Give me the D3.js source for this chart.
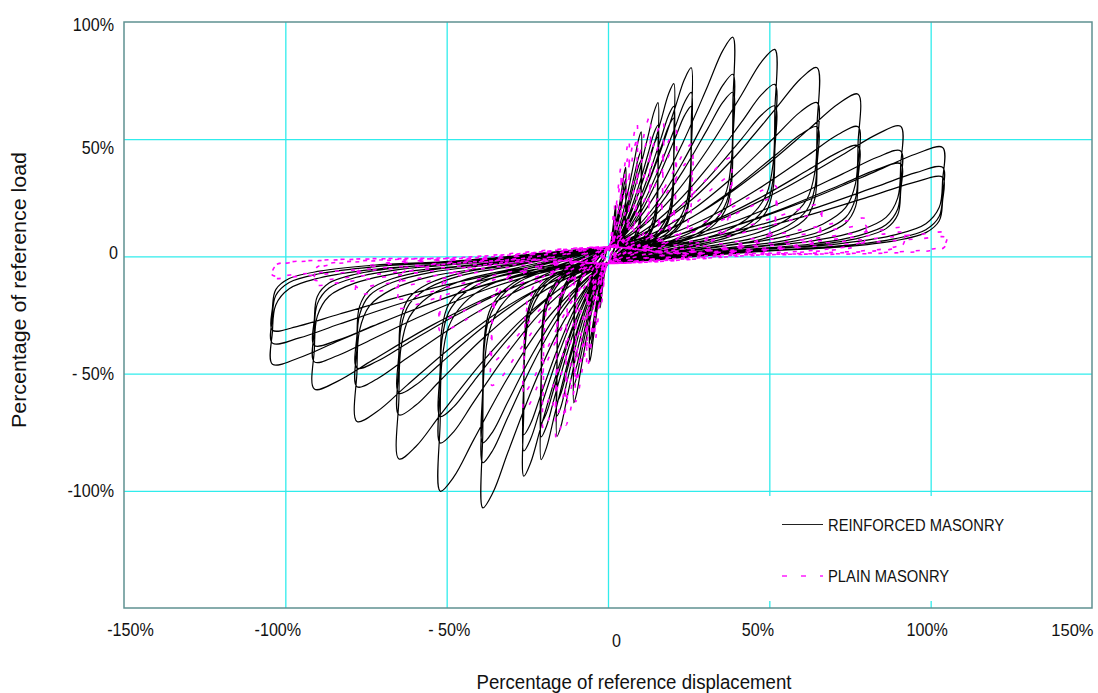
<!DOCTYPE html>
<html>
<head>
<meta charset="utf-8">
<script src="https://cdn.jsdelivr.net/npm/d3@7/dist/d3.min.js"></script>
<style>
  html, body { margin: 0; padding: 0; background: #fff; }
  svg text { font-family: "Liberation Sans", Arial, sans-serif; fill: #111; }
</style>
</head>
<body>
<div id="chart"></div>
<script>
// Assi (valori in %)
const xTicks = [-150, -100, -50, 0, 50, 100, 150];
const xTickLabels = ["-150%", "-100%", "- 50%", "0", "50%", "100%", "150%"];
const yTicks = [-100, -50, 0, 50, 100];
const yTickLabels = ["-100%", "- 50%", "0", "50%", "100%"];

// Muratura armata: spostamenti di picco per livello e carichi di picco dei 3 cicli
const rmPosDisp  = [2.4, 5.5, 10.3, 15.5, 20.4, 25.8, 38.7, 51.7, 64.8, 77.5, 90.7, 103.7];
const rmPosLoad1 = [21.7, 38, 53.1, 65.6, 73.7, 80.5, 93.5, 88.3, 80.5, 69.2, 55.5, 46.5];
const rmPosLoad2 = [19, 33, 45, 56, 64, 70, 77.7, 73.4, 65.6, 55.3, 45, 38];
const rmPosLoad3 = [17, 30, 41, 51, 59, 64, 70, 64.2, 55.3, 47.2, 39.5, 33.8];
const rmNegDisp  = [-2.5, -5.7, -10.6, -15.8, -20.7, -26.1, -38.8, -52, -64.8, -77.8, -91, -104];
const rmNegLoad1 = [-22, -45, -62.5, -76.8, -86.7, -93.8, -107.3, -100.2, -86.4, -70.4, -56.6, -46];
const rmNegLoad2 = [-19, -40, -55, -68, -77, -83, -88, -79.6, -67.6, -55.6, -45, -37];
const rmNegLoad3 = [-17, -36, -50, -62, -71, -76, -79.5, -68.3, -58.4, -47.6, -38, -31.5];

// Muratura non armata: 2 cicli per livello
const pmPosDisp  = [2, 4, 6.5, 9, 13, 17, 21, 26, 38, 52, 66, 80, 92, 105];
const pmPosLoad1 = [22, 38, 50, 57, 60, 58, 54, 48, 42, 30, 22, 16, 12, 10];
const pmPosLoad2 = [19, 33, 44, 50, 52, 50, 47, 42, 34, 25, 18, 13, 10, 8];
const pmNegDisp  = [-2, -4, -6.5, -10, -13, -16, -20, -26, -36, -52, -65, -78, -91, -104];
const pmNegLoad1 = [-20, -36, -48, -62, -72, -78, -74, -66, -55, -32, -22, -16, -12, -9];
const pmNegLoad2 = [-17, -31, -42, -54, -63, -68, -65, -58, -45, -27, -18, -13, -10, -8];

const loopLoading   = [[0.2, 0.14], [0.4, 0.3], [0.6, 0.52], [0.8, 0.78], [0.92, 0.94], [1, 1]];
const loopUnloading = [[1.0, 0.7], [0.99, 0.45], [0.95, 0.3], [0.86, 0.2], [0.7, 0.12], [0.45, 0.06]];
const crossUp = 4, crossDown = -3;   // attraversamento dell'asse a spostamento nullo

const legendLabels = ["REINFORCED MASONRY", "PLAIN MASONRY"];

const width = 1098, height = 693;
const margin = { top: 22, right: 6, bottom: 85, left: 124 };

const svg = d3.select("#chart").append("svg")
    .attr("width", width).attr("height", height);

const x = d3.scaleLinear().domain([-150, 150]).range([margin.left, width - margin.right]);
const y = d3.scaleLinear().domain([-150, 100]).range([height - margin.bottom, margin.top]);

// Griglia
const grid = svg.append("g");
grid.append("g").attr("transform", `translate(0,${y(-150)})`)
    .call(d3.axisBottom(x).tickValues([-100, -50, 0, 50, 100]).tickSize(-(y(-150) - y(100))).tickFormat(""))
    .call(g => g.select(".domain").remove());
grid.append("g").attr("transform", `translate(${x(-150)},0)`)
    .call(d3.axisLeft(y).tickValues([-100, -50, 0, 50]).tickSize(-(x(150) - x(-150))).tickFormat(""))
    .call(g => g.select(".domain").remove());
grid.selectAll("line").attr("stroke", "#30ecec").attr("stroke-width", 1.3);

// Costruzione dei cicli
function buildLoops(posDisp, posLoads, negDisp, negLoads) {
    const pts = [];
    posDisp.forEach((dp, i) => {
        posLoads.forEach((loads, c) => {
            const pp = loads[i], dn = negDisp[i], pn = negLoads[c][i];
            pts.push([0, crossUp]);
            loopLoading.forEach(([u, v]) => pts.push([u * dp, v * pp]));
            loopUnloading.forEach(([u, v]) => pts.push([u * dp, v * pp]));
            pts.push([0, crossDown]);
            loopLoading.forEach(([u, v]) => pts.push([u * dn, v * pn]));
            loopUnloading.forEach(([u, v]) => pts.push([u * dn, v * pn]));
        });
    });
    pts.push([0, crossUp]);
    return pts;
}

const line = d3.line()
    .x(d => x(d[0])).y(d => y(d[1]))
    .curve(d3.curveCatmullRom.alpha(0.5));

const plot = svg.append("g");
plot.append("path")
    .attr("d", line(buildLoops(rmPosDisp, [rmPosLoad1, rmPosLoad2, rmPosLoad3], rmNegDisp, [rmNegLoad1, rmNegLoad2, rmNegLoad3])))
    .attr("fill", "none").attr("stroke", "#000").attr("stroke-width", 1.2);
plot.append("path")
    .attr("d", line(buildLoops(pmPosDisp, [pmPosLoad1, pmPosLoad2], pmNegDisp, [pmNegLoad1, pmNegLoad2])))
    .attr("fill", "none").attr("stroke", "#ff00ff").attr("stroke-width", 1.6)
    .attr("stroke-dasharray", "4,12");

// Legenda
const legend = svg.append("g");
legend.append("rect").attr("x", 760).attr("y", 496).attr("width", 328).attr("height", 105).attr("fill", "#fff");
const legendY = [524.5, 576];
legendLabels.forEach((lab, i) => {
    legend.append("line").attr("x1", 782).attr("x2", 823).attr("y1", legendY[i]).attr("y2", legendY[i])
        .attr("stroke", i === 0 ? "#222" : "#ff55ff").attr("stroke-width", i === 0 ? 1.2 : 1.8)
        .attr("stroke-dasharray", i === 0 ? null : "5,14");
    legend.append("text").attr("x", 828).attr("y", legendY[i]).attr("dy", "0.36em")
        .style("font-size", "16.8px").text(lab)
        .call(squeeze, 0.88);
});

// Cornice
svg.append("rect")
    .attr("x", x(-150)).attr("y", y(100))
    .attr("width", x(150) - x(-150)).attr("height", y(-150) - y(100))
    .attr("fill", "none").attr("stroke", "#5f9191").attr("stroke-width", 1.5);

// Etichette degli assi
const xNudge = [6, -8, 2, 8, -12, -4, 1];
const yNudge = [0, 0, -4, 8, 2.5];

const xAxis = svg.append("g").attr("transform", `translate(0,${y(-150)})`)
    .call(d3.axisBottom(x).tickValues(xTicks).tickSize(0).tickFormat((d, i) => xTickLabels[i]));
xAxis.select(".domain").remove();
xAxis.selectAll("text")
    .attr("fill", "#111").style("font-size", d => d === 150 ? "16.5px" : "18.5px")
    .attr("dy", null)
    .attr("text-anchor", d => d === 150 ? "end" : "middle")
    .attr("y", d => d === 0 ? 39 : 27.5)
    .attr("x", (d, i) => xNudge[i])
    .filter(d => d !== 150)
    .each(function() { squeeze(d3.select(this), 0.87); });

const yAxis = svg.append("g").attr("transform", `translate(${x(-150)},0)`)
    .call(d3.axisLeft(y).tickValues(yTicks).tickSize(0).tickFormat((d, i) => yTickLabels[i]));
yAxis.select(".domain").remove();
yAxis.selectAll("text")
    .attr("fill", "#111").style("font-size", "18.5px")
    .attr("x", d => d === 0 ? -6 : -10)
    .attr("y", (d, i) => yNudge[i])
    .each(function() { squeeze(d3.select(this), 0.87); });

svg.append("text")
    .attr("x", 634).attr("y", 689).attr("text-anchor", "middle")
    .style("font-size", "20px")
    .attr("textLength", 315).attr("lengthAdjust", "spacingAndGlyphs")
    .text("Percentage of reference displacement");

svg.append("text")
    .attr("transform", "translate(26,290) rotate(-90)").attr("text-anchor", "middle")
    .style("font-size", "20px")
    .attr("textLength", 276).attr("lengthAdjust", "spacingAndGlyphs")
    .text("Percentage of reference load");

// Restringe il testo orizzontalmente (resa condensata dell'originale)
function squeeze(sel, k) {
    sel.each(function() {
        const len = this.getComputedTextLength();
        if (len > 0) d3.select(this).attr("textLength", len * k).attr("lengthAdjust", "spacingAndGlyphs");
    });
}
</script>
</body>
</html>
